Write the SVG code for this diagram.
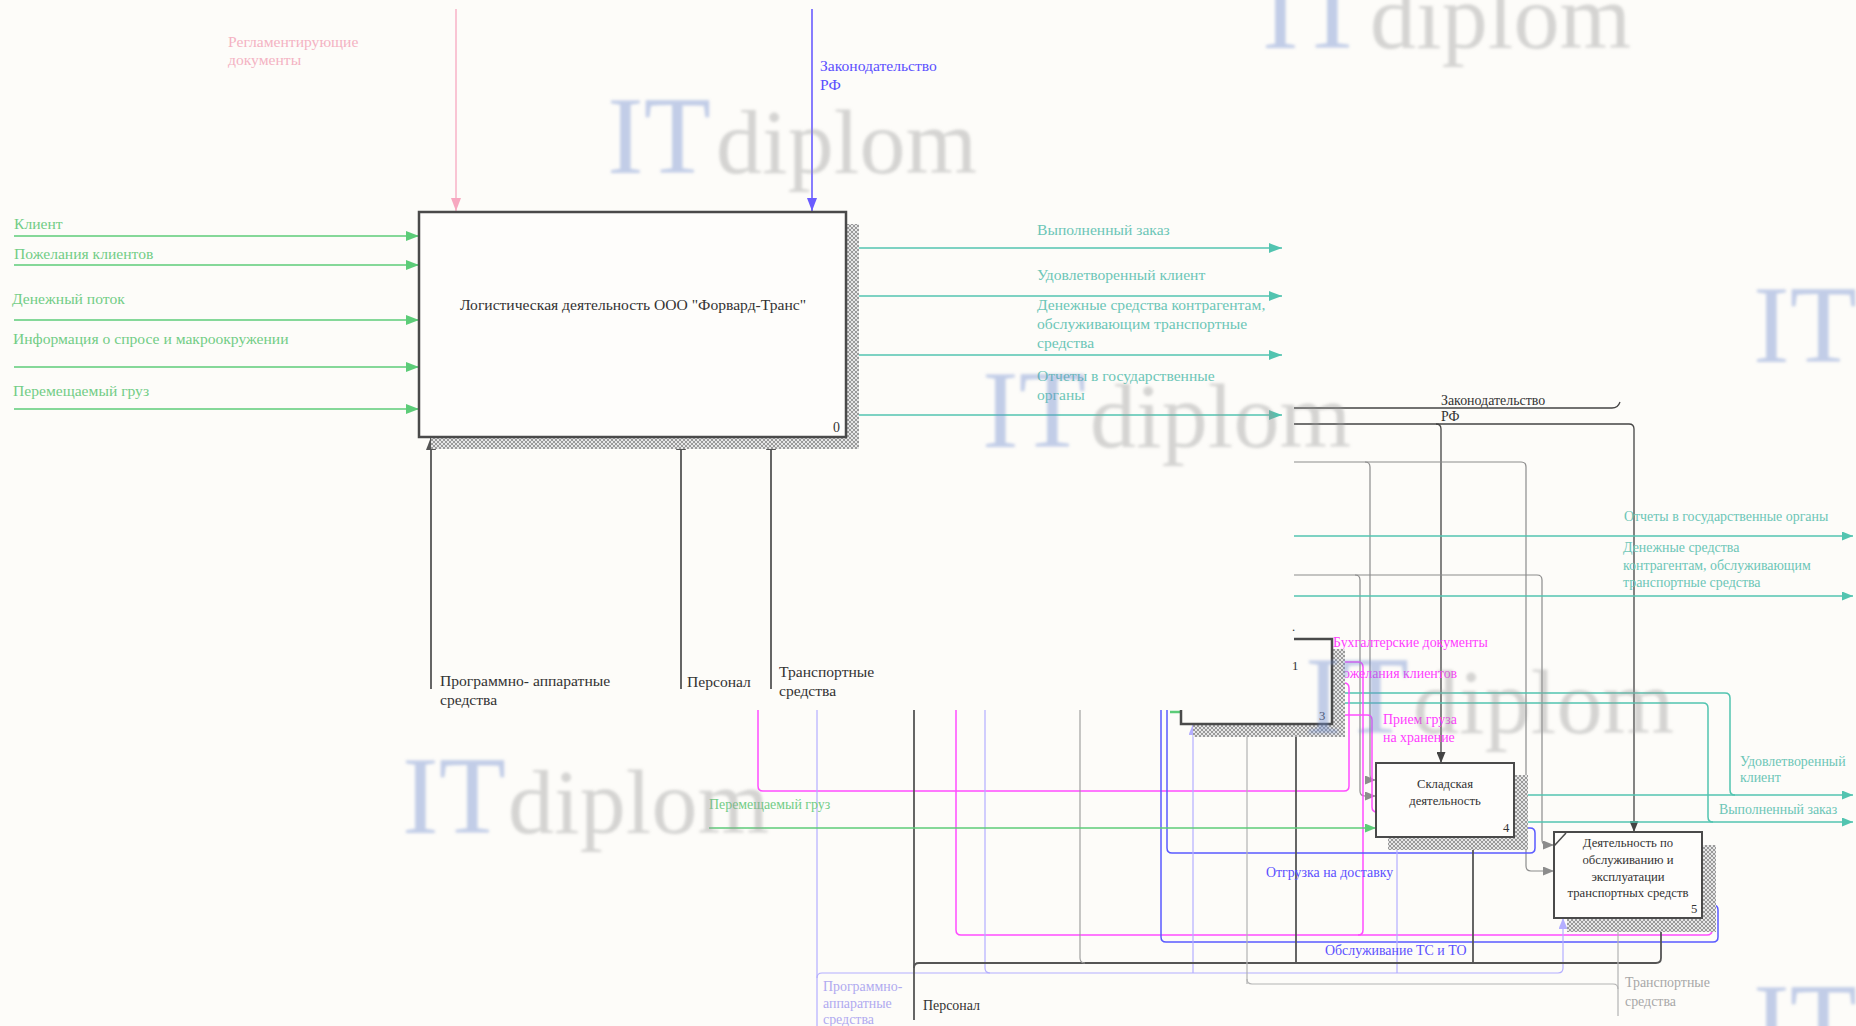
<svg xmlns="http://www.w3.org/2000/svg" width="1856" height="1026" viewBox="0 0 1856 1026">
<style>
text{font-family:"Liberation Serif","Times New Roman",serif}
.t14{font-size:15.6px}
.t12{font-size:13.9px}
.tb{font-size:12.7px}
.box{fill:#fefdfb;stroke:#4a4a4a;stroke-width:2.5}
.sh{fill:url(#hatch)}
.ln{fill:none}
.g{stroke:#5ccc78;stroke-width:1.5}
.tl{stroke:#52c4b0;stroke-width:1.5}
.pk{stroke:#f7a8c0;stroke-width:1.3}
.bl{stroke:#6a5cff;stroke-width:1.6}
.dk{stroke:#555;stroke-width:1.8}
.bk{stroke:#444;stroke-width:1.3}
.mg{stroke:#ff4cff;stroke-width:1.5}
.lb{stroke:#5a5aff;stroke-width:1.5}
.lv{stroke:#b4aeff;stroke-width:1.2}
.lg{stroke:#b3b3b3;stroke-width:1.2}
.mdg{stroke:#8c8c8c;stroke-width:1.2}
.gy{stroke:#999;stroke-width:1.1}
.cg{fill:#72cd86}
.ct{fill:#6cc6b7}
.cb{fill:#5b50ff}
.cd{fill:#333}
.cm{fill:#ff3cff}
.cl{fill:#b0aaf0}
.cgr{fill:#a8a8a8}
.wmI{fill:#6f8cd0;opacity:.42;font-size:110px}
.wmD{fill:#9a9a9a;opacity:.4;font-size:92px}
</style>
<defs>
<pattern id="hatch" width="4" height="4" patternUnits="userSpaceOnUse"><rect width="4" height="4" fill="#e6e6e6"/><path d="M0,4 L4,0 M0,0 L4,4" stroke="#7a7a7a" stroke-width="0.7"/></pattern>
<filter id="blur" x="-10%" y="-10%" width="120%" height="120%"><feGaussianBlur stdDeviation="1.6"/></filter>
<marker id="aG" markerWidth="13" markerHeight="10" refX="13" refY="5" orient="auto" markerUnits="userSpaceOnUse"><path d="M0,0 L13,5 L0,10 z" fill="#5ccc78"/></marker>
<marker id="aT" markerWidth="13" markerHeight="10" refX="13" refY="5" orient="auto" markerUnits="userSpaceOnUse"><path d="M0,0 L13,5 L0,10 z" fill="#52c4b0"/></marker>
<marker id="aP" markerWidth="13" markerHeight="10" refX="13" refY="5" orient="auto" markerUnits="userSpaceOnUse"><path d="M0,0 L13,5 L0,10 z" fill="#f7a8c0"/></marker>
<marker id="aB" markerWidth="13" markerHeight="10" refX="13" refY="5" orient="auto" markerUnits="userSpaceOnUse"><path d="M0,0 L13,5 L0,10 z" fill="#6a5cff"/></marker>
<marker id="aD" markerWidth="13" markerHeight="10" refX="13" refY="5" orient="auto" markerUnits="userSpaceOnUse"><path d="M0,0 L13,5 L0,10 z" fill="#555"/></marker>
<marker id="aK" markerWidth="11" markerHeight="9" refX="11" refY="4.5" orient="auto" markerUnits="userSpaceOnUse"><path d="M0,0 L11,4.5 L0,9 z" fill="#444"/></marker>
<marker id="aM" markerWidth="11" markerHeight="9" refX="11" refY="4.5" orient="auto" markerUnits="userSpaceOnUse"><path d="M0,0 L11,4.5 L0,9 z" fill="#8c8c8c"/></marker>
<marker id="aL" markerWidth="11" markerHeight="9" refX="11" refY="4.5" orient="auto" markerUnits="userSpaceOnUse"><path d="M0,0 L11,4.5 L0,9 z" fill="#b4aeff"/></marker>
<marker id="aLg" markerWidth="11" markerHeight="9" refX="11" refY="4.5" orient="auto" markerUnits="userSpaceOnUse"><path d="M0,0 L11,4.5 L0,9 z" fill="#b3b3b3"/></marker>
<marker id="aT2" markerWidth="11" markerHeight="9" refX="11" refY="4.5" orient="auto" markerUnits="userSpaceOnUse"><path d="M0,0 L11,4.5 L0,9 z" fill="#52c4b0"/></marker>
<marker id="aG2" markerWidth="11" markerHeight="9" refX="11" refY="4.5" orient="auto" markerUnits="userSpaceOnUse"><path d="M0,0 L11,4.5 L0,9 z" fill="#5ccc78"/></marker>
<marker id="aD2" markerWidth="11" markerHeight="9" refX="11" refY="4.5" orient="auto" markerUnits="userSpaceOnUse"><path d="M0,0 L11,4.5 L0,9 z" fill="#555"/></marker>
</defs>
<rect width="1856" height="1026" fill="#fdfcf9"/>

<g id="connectors">
 <!-- top diagram -->
 <path class="ln pk" d="M456,9 V211" marker-end="url(#aP)"/>
 <path class="ln bl" d="M812,9 V211" marker-end="url(#aB)"/>
 <path class="ln g" d="M14,236 H419" marker-end="url(#aG)"/>
 <path class="ln g" d="M14,265 H419" marker-end="url(#aG)"/>
 <path class="ln g" d="M14,320 H419" marker-end="url(#aG)"/>
 <path class="ln g" d="M14,367 H419" marker-end="url(#aG)"/>
 <path class="ln g" d="M14,409 H419" marker-end="url(#aG)"/>
 <path class="ln tl" d="M846,248 H1282" marker-end="url(#aT)"/>
 <path class="ln tl" d="M846,296 H1282" marker-end="url(#aT)"/>
 <path class="ln tl" d="M846,355 H1282" marker-end="url(#aT)"/>
 <path class="ln tl" d="M846,415 H1282" marker-end="url(#aT)"/>
 <path class="ln dk" d="M431,689 V437" marker-end="url(#aD)"/>
 <path class="ln dk" d="M681,689 V437" marker-end="url(#aD)"/>
 <path class="ln dk" d="M771,689 V437" marker-end="url(#aD)"/>

 <!-- lower diagram -->
 <path class="ln bk" d="M1294,408 H1612 Q1618,408 1620,402"/>
 <path class="ln bk" d="M1294,424 H1629 Q1634,424 1634,429 V832" marker-end="url(#aK)"/>
 <path class="ln bk" d="M1436,424 Q1441,424 1441,429 V763" marker-end="url(#aK)"/>

 <path class="ln mdg" d="M1294,462 H1521 Q1526,462 1526,467 V866 Q1526,871 1531,871 H1554" marker-end="url(#aM)"/>
 <path class="ln mdg" d="M1365,462 Q1370,462 1370,467 V775 Q1370,780 1375,780 H1376" marker-end="url(#aM)"/>
 <path class="ln mdg" d="M1294,575 H1537 Q1542,575 1542,580 V840 Q1542,845 1547,845 H1554" marker-end="url(#aM)"/>
 <path class="ln mdg" d="M1355,575 Q1360,575 1360,580 V791 Q1360,796 1365,796 H1376" marker-end="url(#aM)"/>

 <path class="ln tl" d="M1294,536 H1853" marker-end="url(#aT2)"/>
 <path class="ln tl" d="M1294,596 H1853" marker-end="url(#aT2)"/>
 <path class="ln tl" d="M1332,693 H1725 Q1730,693 1730,698 V790 Q1730,795 1735,795"/>
 <path class="ln tl" d="M1332,703 H1703 Q1708,703 1708,708 V817 Q1708,822 1713,822"/>
 <path class="ln tl" d="M1514,795 H1853" marker-end="url(#aT2)"/>
 <path class="ln tl" d="M1514,822 H1853" marker-end="url(#aT2)"/>

 <path class="ln mg" d="M1332,662 H1358 Q1363,662 1363,667 V930 Q1363,935 1358,935"/>
 <path class="ln mg" d="M1332,683 H1344 Q1349,683 1349,688 V786 Q1349,791 1344,791 H763 Q758,791 758,786 V710"/>
 <path class="ln mg" d="M1332,715 H1367 Q1372,715 1372,720 V807 Q1372,812 1377,812"/>
 <path d="M1378,812 L1393,804 L1393,820 z" fill="#ff4cff"/>
 <path class="ln mg" d="M1702,898 H1707 Q1712,898 1712,903 V930 Q1712,935 1707,935 H961 Q956,935 956,930 V710"/>

 <path class="ln lb" d="M1514,828 H1530 Q1535,828 1535,833 V848 Q1535,853 1530,853 H1172 Q1167,853 1167,848 V710"/>
 <path class="ln lb" d="M1702,905 H1713 Q1718,905 1718,910 V937 Q1718,942 1713,942 H1166 Q1161,942 1161,937 V710"/>

 <path class="ln lv" d="M817,710 V1026"/>
 <path class="ln lv" d="M817,978 Q817,973 822,973 H1558 Q1563,973 1563,968 V918" marker-end="url(#aL)"/>
 <path class="ln lv" d="M1193,973 V724" marker-end="url(#aL)"/>
 <path class="ln lv" d="M1397,973 V837" marker-end="url(#aL)"/>
 <path class="ln lv" d="M985,710 V968 Q985,973 990,973"/>

 <path class="ln dk" d="M914,710 V1020"/>
 <path class="ln dk" d="M914,968 Q914,963 919,963 H1656 Q1661,963 1661,958 V918" marker-end="url(#aD2)"/>
 <path class="ln dk" d="M1296,963 V724" marker-end="url(#aD2)"/>
 <path class="ln dk" d="M1473,963 V837" marker-end="url(#aD2)"/>
 <path class="ln gy" d="M1080,710 V958 Q1080,963 1085,963"/>

 <path class="ln lg" d="M1618,1016 V918" marker-end="url(#aLg)"/>
 <path class="ln lg" d="M1247,984 V724" marker-end="url(#aLg)"/>
 <path class="ln lg" d="M1247,979 Q1247,984 1252,984 H1613 Q1618,984 1618,989"/>

 <path class="ln g" d="M709,828 H1376" marker-end="url(#aG2)"/>
 <path class="ln g" d="M1170,712 H1181" style="stroke-width:2.5"/>

 <!-- labels, top diagram -->
 <text class="t14" x="228" y="47" fill="#f4b3c3">Регламентирующие</text>
 <text class="t14" x="228" y="65" fill="#f4b3c3">документы</text>
 <text class="t14 cb" x="820" y="71">Законодательство</text>
 <text class="t14 cb" x="820" y="90">РФ</text>
 <text class="t14 cg" x="14" y="229">Клиент</text>
 <text class="t14 cg" x="14" y="259">Пожелания клиентов</text>
 <text class="t14 cg" x="12" y="304">Денежный поток</text>
 <text class="t14 cg" x="13" y="344">Информация о спросе и макроокружении</text>
 <text class="t14 cg" x="13" y="396">Перемещаемый груз</text>
 <text class="t14 ct" x="1037" y="235">Выполненный заказ</text>
 <text class="t14 ct" x="1037" y="280">Удовлетворенный клиент</text>
 <text class="t14 ct" x="1037" y="310">Денежные средства контрагентам,</text>
 <text class="t14 ct" x="1037" y="329">обслуживающим транспортные</text>
 <text class="t14 ct" x="1037" y="348">средства</text>
 <text class="t14 ct" x="1037" y="381">Отчеты в государственные</text>
 <text class="t14 ct" x="1037" y="400">органы</text>
 <text class="t14 cd" x="440" y="686">Программно- аппаратные</text>
 <text class="t14 cd" x="440" y="705">средства</text>
 <text class="t14 cd" x="687" y="687">Персонал</text>
 <text class="t14 cd" x="779" y="677">Транспортные</text>
 <text class="t14 cd" x="779" y="696">средства</text>

 <!-- labels, lower diagram -->
 <text class="t12 cd" x="1441" y="405">Законодательство</text>
 <text class="t12 cd" x="1441" y="421">РФ</text>
 <text class="t12 ct" x="1624" y="521">Отчеты в государственные органы</text>
 <text class="t12 ct" x="1623" y="552">Денежные средства</text>
 <text class="t12 ct" x="1623" y="570">контрагентам, обслуживающим</text>
 <text class="t12 ct" x="1623" y="587">транспортные средства</text>
 <text class="t12 cm" x="1333" y="647">Бухгалтерские документы</text>
 <text class="t12 cm" x="1333" y="678">Пожелания клиентов</text>
 <text class="t12 cm" x="1383" y="724">Прием груза</text>
 <text class="t12 cm" x="1383" y="742">на хранение</text>
 <text class="t12 ct" x="1740" y="766">Удовлетворенный</text>
 <text class="t12 ct" x="1740" y="782">клиент</text>
 <text class="t12 ct" x="1719" y="814">Выполненный заказ</text>
 <text class="t12 cg" x="709" y="809">Перемещаемый груз</text>
 <text class="t12 cb" x="1266" y="877">Отгрузка на доставку</text>
 <text class="t12 cb" x="1325" y="955">Обслуживание ТС и ТО</text>
 <text class="t12 cl" x="823" y="991">Программно-</text>
 <text class="t12 cl" x="823" y="1008">аппаратные</text>
 <text class="t12 cl" x="823" y="1024">средства</text>
 <text class="t12 cd" x="923" y="1010">Персонал</text>
 <text class="t12 cgr" x="1625" y="987">Транспортные</text>
 <text class="t12 cgr" x="1625" y="1006">средства</text>
</g>

<g id="node-0">
 <rect class="sh" x="846" y="224" width="13" height="225"/>
 <rect class="sh" x="431" y="437" width="428" height="12"/>
 <rect class="box" x="419" y="212" width="427" height="225"/>
 <text class="t14 cd" x="633" y="310" text-anchor="middle">Логистическая деятельность ООО "Форвард-Транс"</text>
 <text class="t12 cd" x="833" y="432">0</text>
</g>

<g id="node-3">
 <rect class="sh" x="1332" y="649" width="13" height="88"/>
 <rect class="sh" x="1193" y="724" width="152" height="13"/>
 <path d="M1294,639 H1332 V724 H1181 V710" fill="none" stroke="#4a4a4a" stroke-width="2.5"/>
 <text class="tb cd" x="1292" y="631">.</text>
 <text class="tb cd" x="1292" y="670">1</text>
 <text class="tb cd" x="1319" y="720">3</text>
</g>

<g id="node-4">
 <rect class="sh" x="1514" y="775" width="14" height="75"/>
 <rect class="sh" x="1388" y="837" width="140" height="13"/>
 <rect class="box" x="1376" y="763" width="138" height="74" style="stroke-width:2"/>
 <text class="tb cd" x="1445" y="788" text-anchor="middle">Складская</text>
 <text class="tb cd" x="1445" y="805" text-anchor="middle">деятельность</text>
 <text class="tb cd" x="1503" y="832">4</text>
</g>

<g id="node-5">
 <rect class="sh" x="1702" y="845" width="14" height="87"/>
 <rect class="sh" x="1567" y="918" width="149" height="14"/>
 <rect class="box" x="1554" y="832" width="148" height="86" style="stroke-width:2"/>
 <path d="M1554,846 L1566,833" stroke="#4a4a4a" stroke-width="1.5" fill="none"/>
 <text class="tb cd" x="1628" y="847" text-anchor="middle">Деятельность по</text>
 <text class="tb cd" x="1628" y="864" text-anchor="middle">обслуживанию и</text>
 <text class="tb cd" x="1628" y="881" text-anchor="middle">эксплуатации</text>
 <text class="tb cd" x="1628" y="897" text-anchor="middle">транспортных средств</text>
 <text class="tb cd" x="1691" y="913">5</text>
</g>

<g id="watermarks" filter="url(#blur)">
 <text class="wmI" x="607" y="173">IT</text><text class="wmD" x="716" y="173" textLength="261">diplom</text>
 <text class="wmI" x="1262" y="48">IT</text><text class="wmD" x="1370" y="48" textLength="261">diplom</text>
 <text class="wmI" x="1753" y="362">IT</text>
 <text class="wmI" x="982" y="447">IT</text><text class="wmD" x="1090" y="447" textLength="261">diplom</text>
 <text class="wmI" x="402" y="833">IT</text><text class="wmD" x="508" y="833" textLength="261">diplom</text>
 <text class="wmI" x="1305" y="733">IT</text><text class="wmD" x="1413" y="733" textLength="261">diplom</text>
 <text class="wmI" x="1753" y="1060">IT</text>
</g>
</svg>
